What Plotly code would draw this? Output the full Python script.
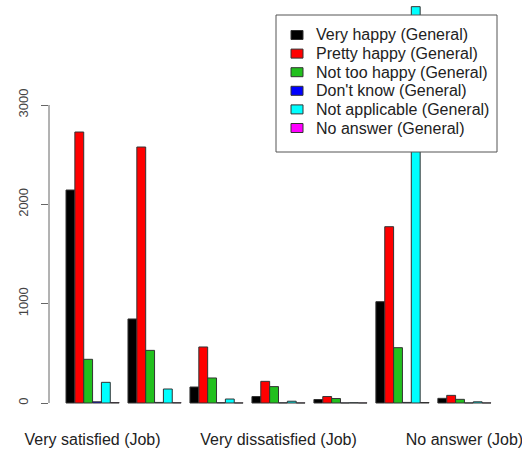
import plotly.graph_objects as go

job_categories = ["Very satisfied (Job)", "Mod. satisfied (Job)", "A little dissat (Job)",
                  "Very dissatisfied (Job)", "Don't know (Job)", "Not applicable (Job)",
                  "No answer (Job)"]
shown_labels = ["Very satisfied (Job)", "Very dissatisfied (Job)", "No answer (Job)"]

series_names = ["Very happy (General)", "Pretty happy (General)", "Not too happy (General)",
                "Don't know (General)", "Not applicable (General)", "No answer (General)"]
very_happy = [2144, 846, 161, 65, 35, 1020, 47]
pretty_happy = [2728, 2577, 564, 218, 65, 1775, 77]
not_too_happy = [440, 530, 252, 165, 45, 557, 37]
dont_know = [12, 6, 3, 2, 1, 6, 1]
not_applicable = [208, 141, 40, 18, 3, 3990, 12]
no_answer = [4, 3, 1, 1, 1, 5, 1]
series_values = [very_happy, pretty_happy, not_too_happy, dont_know, not_applicable, no_answer]
colors = ["#000000", "#FF0000", "#22C01E", "#0000FF", "#00FFFF", "#FF00FF"]
y_ticks = [0, 1000, 2000, 3000]

W, H = 522, 449
ML, MR, MT, MB = 49, 14, 0, 30
PW, PH = W - ML - MR, H - MT - MB


def px_x(x):
    return (x - ML) / PW


def px_y(y):
    return 1 - (y - MT) / PH


fig = go.Figure()
for name, vals, col in zip(series_names, series_values, colors):
    fig.add_trace(go.Bar(x=job_categories, y=vals, name=name, showlegend=False,
                         marker=dict(color=col, line=dict(color="#333333", width=1))))

# hand-drawn R-style legend box
shapes = [dict(type="rect", xref="paper", yref="paper", layer="above",
               x0=px_x(276), x1=px_x(497), y0=px_y(152), y1=px_y(15),
               fillcolor="white", line=dict(color="#555555", width=1))]
annotations = []
row0, step = 35.0, 18.6
for i, (name, col) in enumerate(zip(series_names, colors)):
    cy = row0 + i * step
    shapes.append(dict(type="rect", xref="paper", yref="paper", layer="above",
                       x0=px_x(291), x1=px_x(303), y0=px_y(cy + 4.5), y1=px_y(cy - 4.5),
                       fillcolor=col, line=dict(color="#333333", width=1)))
    annotations.append(dict(xref="paper", yref="paper", x=px_x(314), y=px_y(cy),
                            xanchor="left", yanchor="middle", showarrow=False, text=name,
                            font=dict(size=16, color="#222222")))
shapes.append(dict(type="line", xref="paper", yref="y", x0=0, x1=0,
                   y0=y_ticks[0], y1=y_ticks[-1], line=dict(color="#666666", width=1)))

fig.update_layout(
    width=W, height=H,
    margin=dict(l=ML, r=MR, t=MT, b=MB),
    paper_bgcolor="white", plot_bgcolor="white",
    barmode="group", bargap=1/7, bargroupgap=0,
    font=dict(family="Liberation Sans, Arial, sans-serif", size=16, color="#222222"),
    showlegend=False,
    shapes=shapes, annotations=annotations,
)
fig.update_xaxes(type="category", range=[-0.703, 6.703], showgrid=False, zeroline=False,
                 showline=False, tickvals=shown_labels, ticktext=shown_labels,
                 ticks="outside", ticklen=6, tickcolor="rgba(0,0,0,0)", automargin=False,
                 tickfont=dict(size=16))
fig.update_yaxes(range=[-161, 4057], showgrid=False, zeroline=False, showline=False,
                 tickvals=y_ticks, ticktext=[str(v) for v in y_ticks], tickangle=-90,
                 ticks="outside", ticklen=7, tickcolor="#666666", ticklabelstandoff=8,
                 automargin=False, tickfont=dict(size=13, color="#444444"))
fig.write_html("out.html", config={"displayModeBar": False},
               post_script="document.body.style.margin='0px';")
